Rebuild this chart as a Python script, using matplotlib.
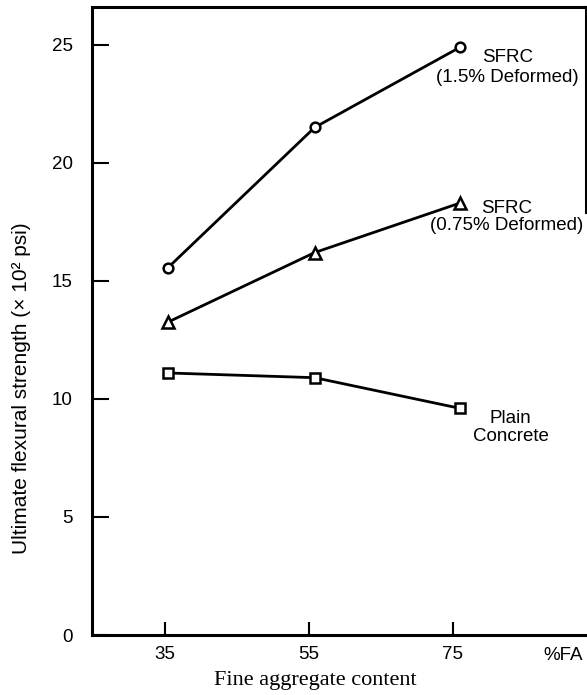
import matplotlib
matplotlib.use("Agg")
import matplotlib.pyplot as plt

# fine aggregate content (%)
fa_content = [35.4, 55.8, 76.0]
fa_ticks = [35, 55, 75]

# ultimate flexural strength (x 10^2 psi)
sfrc_15 = [15.55, 21.5, 24.9]
sfrc_075 = [13.25, 16.2, 18.3]
plain = [11.1, 10.9, 9.6]

y_ticks = [0, 5, 10, 15, 20, 25]

plt.rcParams['font.family'] = ['Liberation Sans', 'DejaVu Sans']

fig = plt.figure(figsize=(5.87, 6.95), dpi=100)
ax = fig.add_axes([0.157, 0.0863, 0.8416, 0.9036])

line_kw = dict(color='black', lw=2.0, mfc='white', mec='black', mew=1.8)
ax.plot(fa_content, sfrc_15, marker='o', ms=7, **line_kw)
ax.plot(fa_content, sfrc_075, marker='^', ms=8, **line_kw)
ax.plot(fa_content, plain, marker='s', ms=7, **line_kw)

ax.set_xlim(24.9, 93.5)
ax.set_ylim(0, 26.6)
ax.set_xticks(fa_ticks)
ax.set_xticklabels([str(v) for v in fa_ticks])
ax.set_yticks(y_ticks)

for s in ['left', 'bottom', 'top', 'right']:
    ax.spines[s].set_linewidth(2.2)
ax.spines['right'].set_bounds(17.9, 26.6)

ax.tick_params(axis='y', direction='in', length=12, width=1.5, labelsize=13.5, pad=14)
ax.tick_params(axis='x', direction='in', length=9.5, width=1.5, labelsize=13.5, pad=8)

# curve labels
ax.text(82.6, 24.05, "SFRC\n(1.5% Deformed)", ha='center', va='center',
        fontsize=13.5, linespacing=1.2)
ax.text(82.4, 17.7, "SFRC\n(0.75% Deformed)", ha='center', va='center',
        fontsize=13.5, linespacing=1.05)
ax.text(83.0, 8.8, "Plain\nConcrete", ha='center', va='center',
        fontsize=13.5, linespacing=1.05)

ax.text(90.3, -0.85, "%FA", ha='center', va='center', fontsize=13.5, clip_on=False)

ax.set_xlabel("Fine aggregate content", family='Liberation Serif', fontsize=16)
ax.xaxis.label.set_va('center')
ax.xaxis.set_label_coords(0.451, -0.072)

ax.set_ylabel("Ultimate flexural strength (\u00d7 10\u00b2 psi)", fontsize=15)
ax.yaxis.label.set_va('center')
ax.yaxis.label.set_rotation_mode('default')
ax.yaxis.set_label_coords(-0.144, 0.393)

plt.savefig('out.png', dpi=100)
